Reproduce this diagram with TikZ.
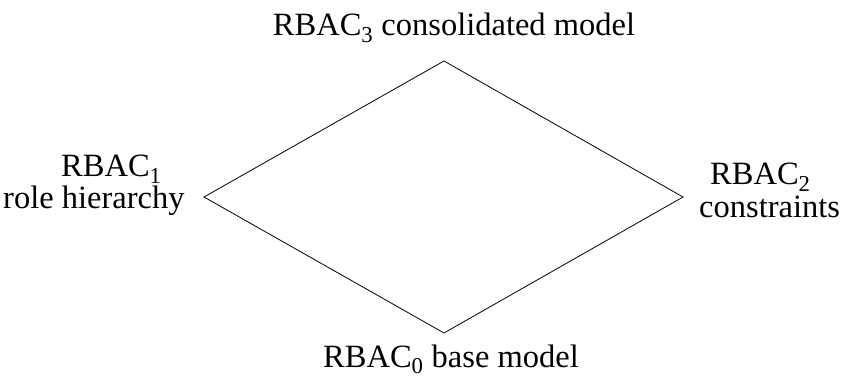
\documentclass[tikz,border=0pt]{standalone}
\usepackage{fontspec}
\setmainfont{Liberation Serif}
\usetikzlibrary{positioning}

\begin{document}
\begin{tikzpicture}[
            x=1pt,
            y=-1pt,
            font=\fontsize{32.5}{29}\selectfont,
            label/.style={anchor=base west, inner sep=0pt},
            title/.style={anchor=base, inner sep=0pt}
        ]

            % --- Frame ---
            \useasboundingbox (0,0) rectangle (845,379);

            % --- Diamond Corners ---
            \coordinate (T) at (444,61);
            \coordinate (L) at (204,197);
            \coordinate (R) at (683,197);
            \coordinate (B) at (444,333);

            % --- Diamond ---
            \draw[line width=0.8pt, line join=miter] (T) -- (R) -- (B) -- (L) -- cycle;

            % --- Labels ---
            \node[title] (rbac3) at (454,36)  {RBAC\textsubscript{3} consolidated model};
            \node[title] (rbac0) at (451,367) {RBAC\textsubscript{0} base model};

            \node[label] (rbac1)     at (61,177) {RBAC\textsubscript{1}};
            \node[label] (rbac1text) at (3,209)  {role hierarchy};

            \node[label] (rbac2)     at (710,185) {RBAC\textsubscript{2}};
            \node[label] (rbac2text) at (699,218) {constraints};

        \end{tikzpicture}
\end{document}
